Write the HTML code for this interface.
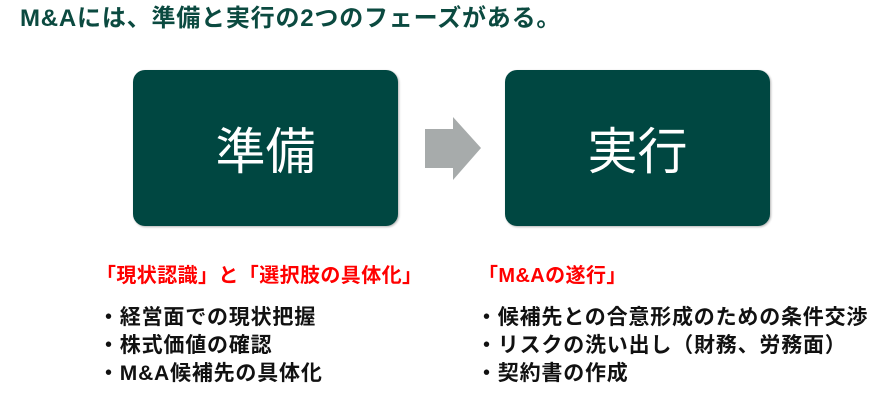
<!DOCTYPE html>
<html><head><meta charset="utf-8"><style>
body{margin:0;width:896px;height:412px;background:#fff;position:relative;overflow:hidden;font-family:"Liberation Sans","Noto Sans CJK JP",sans-serif}
.t{position:absolute;white-space:nowrap}
.box{position:absolute;top:70px;width:265px;height:156px;background:#004741;border-radius:12px;color:#fff;font-size:50px;display:flex;align-items:center;justify-content:center;box-shadow:1px 1px 2px rgba(0,0,0,.3)}
.h{color:#ff0000;font-size:20px;font-weight:bold;line-height:24px;letter-spacing:0.4px}
.l{color:#111;font-size:21px;font-weight:bold;line-height:28px;letter-spacing:0.8px}
</style></head><body>
<div class="t" style="left:20px;top:4px;font-size:24px;line-height:30px;font-weight:bold;color:#0b4a40;letter-spacing:0.8px">M&amp;Aには、準備と実行の2つのフェーズがある。</div>
<div class="box" style="left:133px">準備</div>
<div class="box" style="left:505px">実行</div>
<svg style="position:absolute;left:0;top:0" width="896" height="412"><polygon points="425,129 453,129 453,117 481,148 453,180 453,168 425,168" fill="#a7abab"/></svg>
<div class="t h" style="left:96px;top:264px">「現状認識」と「選択肢の具体化」</div>
<div class="t h" style="left:478px;top:264px">「M&amp;Aの遂行」</div>
<div class="t l" style="left:98px;top:304px">・経営面での現状把握<br>・株式価値の確認<br>・M&amp;A候補先の具体化</div>
<div class="t l" style="left:476px;top:304px">・候補先との合意形成のための条件交渉<br>・リスクの洗い出し（財務、労務面）<br>・契約書の作成</div>
</body></html>
